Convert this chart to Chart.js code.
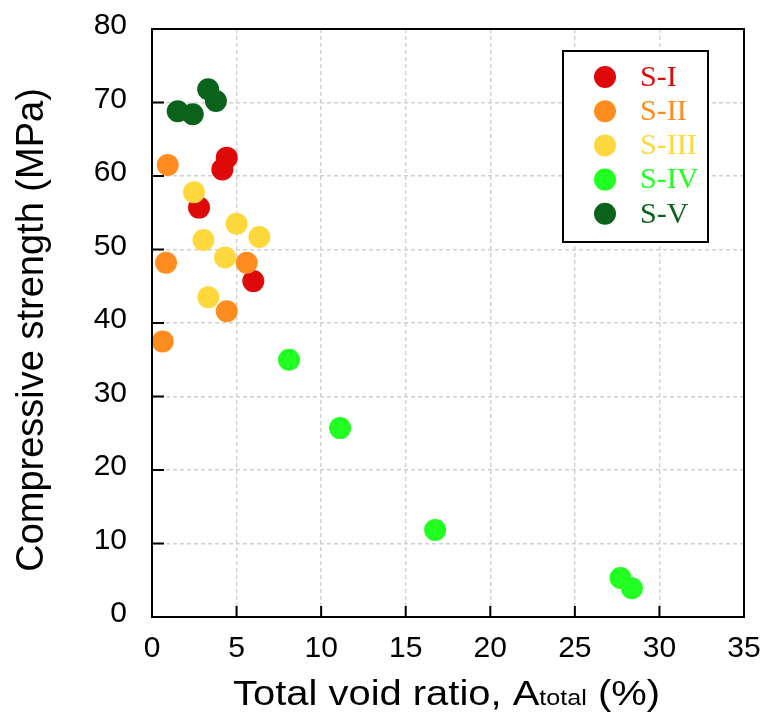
<!DOCTYPE html>
<html>
<head>
<meta charset="utf-8">
<script src="https://cdn.jsdelivr.net/npm/chart.js@4"></script>
<style>
  html, body { margin: 0; padding: 0; background: #fff; }
  canvas { display: block; }
</style>
</head>
<body>
<canvas id="chartVoid" width="762" height="722"></canvas>
<script>
/*-------------------
    DATA
--------------------*/
const seriesNames = ['S-I', 'S-II', 'S-III', 'S-IV', 'S-V'];
const seriesColors = ['#de0a0a', '#ff8c1e', '#ffd83e', '#22ff22', '#0b631b'];

const voidSI = [4.42, 4.16, 2.78, 5.99];
const strengthSI = [62.5, 60.9, 55.7, 45.7];

const voidSII = [0.93, 0.83, 5.6, 4.42, 0.63];
const strengthSII = [61.5, 48.2, 48.2, 41.6, 37.5];

const voidSIII = [2.48, 5.0, 6.35, 3.04, 4.32, 3.33];
const strengthSIII = [57.8, 53.5, 51.7, 51.3, 48.9, 43.5];

const voidSIV = [8.1, 11.12, 16.74, 27.7, 28.37];
const strengthSIV = [35.0, 25.7, 11.85, 5.3, 3.9];

const voidSV = [3.32, 3.78, 1.52, 2.41];
const strengthSV = [71.8, 70.2, 68.8, 68.4];

const xTicks = [0, 5, 10, 15, 20, 25, 30, 35];
const yTicks = [0, 10, 20, 30, 40, 50, 60, 70, 80];

const toPoints = (xs, ys) => xs.map((x, i) => ({x: x, y: ys[i]}));
const allX = [voidSI, voidSII, voidSIII, voidSIV, voidSV];
const allY = [strengthSI, strengthSII, strengthSIII, strengthSIV, strengthSV];

/*-------------------
    FRAME, TICKS, TITLES, LEGEND
--------------------*/
const framePlugin = {
    id: 'framePlugin',
    afterDraw(chart) {
        const ctx = chart.ctx;
        const a = chart.chartArea;
        const xs = chart.scales.x, ys = chart.scales.y;
        ctx.save();
        ctx.strokeStyle = '#000';
        ctx.lineWidth = 2;
        ctx.setLineDash([]);
        ctx.strokeRect(a.left, a.top, a.right - a.left, a.bottom - a.top);
        // inward ticks
        ctx.beginPath();
        yTicks.forEach(v => {
            const py = ys.getPixelForValue(v);
            ctx.moveTo(a.left, py); ctx.lineTo(a.left + 12, py);
        });
        xTicks.forEach(v => {
            const px = xs.getPixelForValue(v);
            ctx.moveTo(px, a.bottom); ctx.lineTo(px, a.bottom - 11);
        });
        ctx.stroke();

        // y title
        ctx.fillStyle = '#000';
        ctx.font = '38px "Liberation Sans", Arial, sans-serif';
        ctx.textAlign = 'center';
        ctx.textBaseline = 'alphabetic';
        ctx.save();
        ctx.translate(43, 330);
        ctx.rotate(-Math.PI / 2);
        ctx.fillText('Compressive strength (MPa)', 0, 0);
        ctx.restore();

        // x title with subscript
        const big = '35px "Liberation Sans", Arial, sans-serif';
        const small = '22px "Liberation Sans", Arial, sans-serif';
        const parts = [['Total void ratio, A', big, 0], ['total', small, 0], [' (%)', big, 0]];
        let natural = 0;
        parts.forEach(p => { ctx.font = p[1]; natural += ctx.measureText(p[0]).width; });
        const left = 233, right = 660;
        const sx = (right - left) / natural;
        ctx.save();
        ctx.translate(left, 705);
        ctx.scale(sx, 1);
        ctx.textAlign = 'left';
        let cx = 0;
        parts.forEach(p => {
            ctx.font = p[1];
            ctx.fillText(p[0], cx, p[2]);
            cx += ctx.measureText(p[0]).width;
        });
        ctx.restore();

        // legend box
        const lx = 563, ly = 51, lw = 145, lh = 191;
        ctx.fillStyle = '#fff';
        ctx.fillRect(lx, ly, lw, lh);
        ctx.strokeStyle = '#000';
        ctx.lineWidth = 2;
        ctx.strokeRect(lx, ly, lw, lh);
        ctx.font = '30px "Liberation Serif", "Times New Roman", serif';
        ctx.textBaseline = 'middle';
        ctx.textAlign = 'left';
        chart.data.datasets.forEach((ds, i) => {
            const cy = 77 + i * 34.2;
            ctx.fillStyle = ds.backgroundColor;
            ctx.beginPath();
            ctx.arc(605, cy, 11, 0, Math.PI * 2);
            ctx.fill();
            ctx.fillText(ds.label, 640, cy + 1);
        });
        ctx.restore();
    }
};

const canvas = document.getElementById('chartVoid');

if(canvas) {
    new Chart(canvas, {
        type: 'scatter',
        data: {
            datasets: seriesNames.map((name, i) => ({
                label: name,
                data: toPoints(allX[i], allY[i]),
                backgroundColor: seriesColors[i],
                borderColor: seriesColors[i],
                borderWidth: 0,
                pointRadius: 11,
                pointHoverRadius: 11,
                order: 5 - i
            }))
        },
        options: {
            responsive: false,
            devicePixelRatio: 1,
            animation: false,
            layout: { padding: { left: 0, top: 29, right: 18, bottom: 0 } },
            plugins: {
                legend: { display: false },
                tooltip: { enabled: false }
            },
            scales: {
                x: {
                    type: 'linear',
                    min: 0, max: 35,
                    afterFit(scale) {
                        scale.height = 105;
                        scale.paddingLeft = 0; scale.paddingRight = 0;
                    },
                    afterBuildTicks(scale) { scale.ticks = xTicks.map(v => ({value: v})); },
                    grid: { color: '#d0d0d0', lineWidth: 1.4, drawTicks: false },
                    border: { display: false, dash: [4, 3] },
                    ticks: {
                        color: '#000',
                        padding: 14,
                        maxRotation: 0,
                        font: { family: '"Liberation Sans", Arial, sans-serif', size: 30 }
                    }
                },
                y: {
                    type: 'linear',
                    min: 0, max: 80,
                    afterFit(scale) {
                        scale.width = 152;
                        scale.paddingTop = 0; scale.paddingBottom = 0;
                    },
                    afterBuildTicks(scale) { scale.ticks = yTicks.map(v => ({value: v})); },
                    grid: { color: '#d0d0d0', lineWidth: 1.4, drawTicks: false },
                    border: { display: false, dash: [4, 3] },
                    ticks: {
                        color: '#000',
                        padding: 25,
                        labelOffset: -3,
                        font: { family: '"Liberation Sans", Arial, sans-serif', size: 30 }
                    }
                }
            }
        },
        plugins: [framePlugin]
    });
}
</script>
</body>
</html>
